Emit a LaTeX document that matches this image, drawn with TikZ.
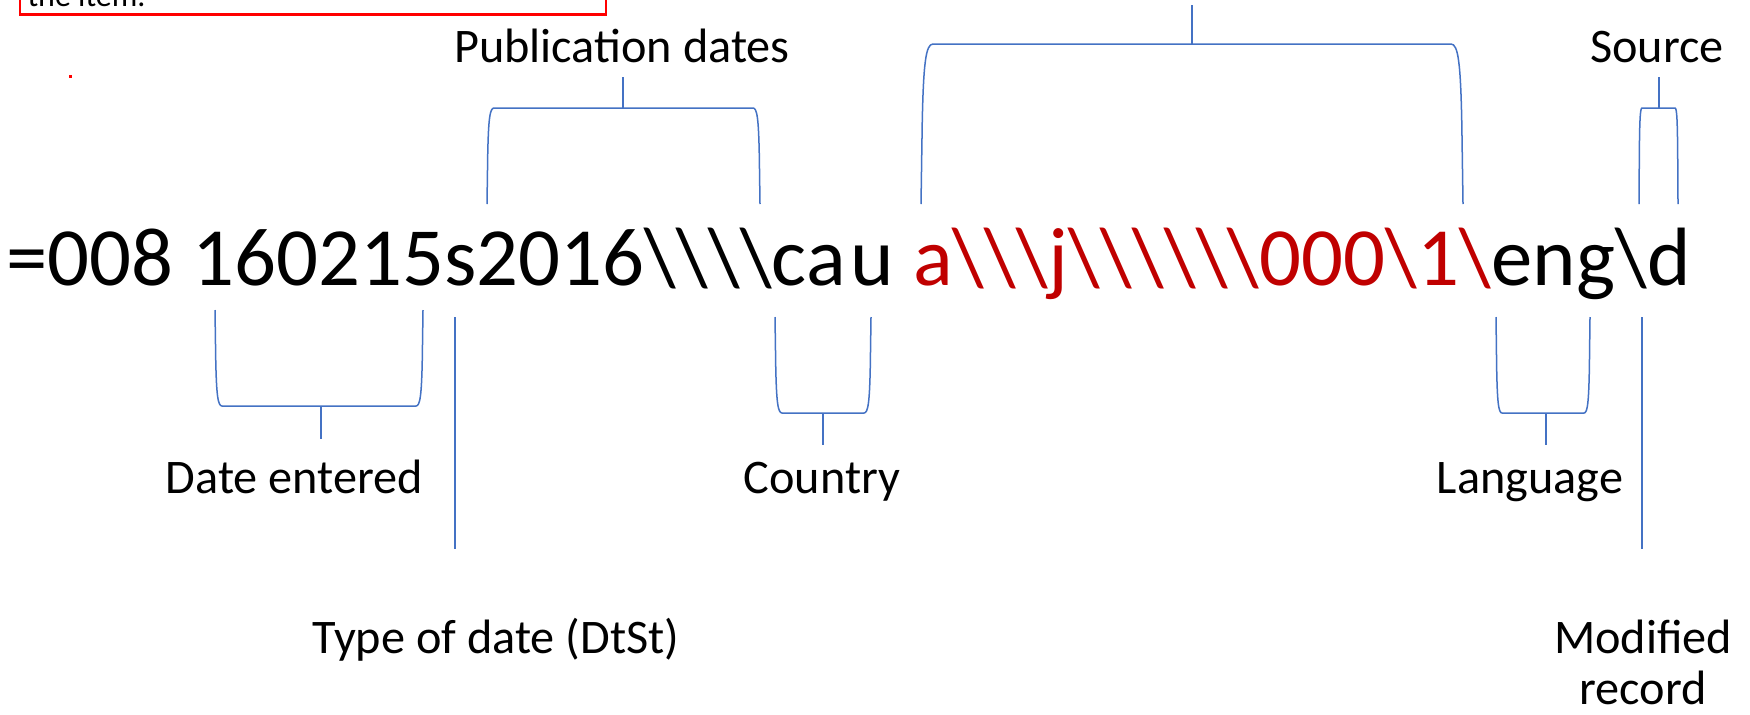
\documentclass[tikz,border=0pt]{standalone}
\usepackage{fontspec}
\setmainfont{Carlito}
\definecolor{bblue}{HTML}{4472C4}
\definecolor{codered}{HTML}{C00000}
\newcommand{\bksl}{\textbackslash}
% #1 left x, #2 right x, #3 y of the flat part, #4 y of the side ends, #5 corner inset
\newcommand{\brackline}[5]{%
  \draw[brkline] (#1,#4) -- ({#1+0.1*#5},{#3+0.5*(#4-#3)})
    .. controls ({#1+0.2*#5},{#3+0.12*(#4-#3)}) and ({#1+0.4*#5},#3) .. ({#1+#5},#3)
    -- ({#2-#5},#3)
    .. controls ({#2-0.4*#5},#3) and ({#2-0.2*#5},{#3+0.12*(#4-#3)}) .. ({#2-0.1*#5},{#3+0.5*(#4-#3)})
    -- (#2,#4);}
\begin{document}
\begin{tikzpicture}[x=0.4pt,y=-0.4pt,
  brkline/.style={draw=bblue, line width=0.6pt},
  lbl/.style={inner sep=0pt, anchor=base, font=\fontsize{19.3}{23}\selectfont},
  codetext/.style={inner sep=0pt, anchor=base west, font=\fontsize{33.1}{40}\selectfont}]
\useasboundingbox (0,0) rectangle (1750,714);
\clip (0,0) rectangle (1750,714);
\fill[white] (0,0) rectangle (1750,714);

% partial note box at the top
\draw[red, line width=0.9pt] (20,-80) rectangle (606,14.5);
\node[inner sep=0pt, anchor=base west, font=\fontsize{12.8}{15}\selectfont] (note) at (27,6) {the item.};
\fill[red] (68.5,74.5) rectangle (72,78);

% main code line
\node[codetext] (code) at (6,285) {=008 160215s2016\bksl\bksl\bksl\bksl ca\kern2pt u {\color{codered}a\bksl\bksl\bksl j\bksl\bksl\bksl\bksl\bksl\bksl 000\bksl 1\bksl}eng\bksl d};

% labels
\node[lbl] (pub) at (622,62) {Publication dates};
\node[lbl] (src) at (1657,62) {Source};
\node[lbl] (dent) at (294.5,493) {Date entered};
\node[lbl] (ctry) at (822,493) {Country};
\node[lbl] (lang) at (1530,493) {Language};
\node[lbl] (dtst) at (496,653) {Type of date (DtSt)};
\node[lbl] (mod1) at (1643,653) {Modified};
\node[lbl] (mod2) at (1643,704) {record};

% brackets
\brackline{921}{1463}{44}{204}{12}
\brackline{487}{760}{108}{204}{7}
\brackline{1639}{1678}{108}{204}{3}
\brackline{215}{423}{406}{310}{7}
\brackline{775}{871}{413}{317}{7}
\brackline{1496}{1590}{413}{317}{6}

% connector stems
\coordinate (bigA) at (1192,5);   \coordinate (bigB) at (1192,44);
\coordinate (pubA) at (623,77);   \coordinate (pubB) at (623,108);
\coordinate (srcA) at (1659,77);  \coordinate (srcB) at (1659,108);
\coordinate (denA) at (321,406);  \coordinate (denB) at (321,439);
\coordinate (ctyA) at (823,413);  \coordinate (ctyB) at (823,445);
\coordinate (lanA) at (1546,413); \coordinate (lanB) at (1546,445);
\coordinate (dtA) at (455,317);   \coordinate (dtB) at (455,549);
\coordinate (modA) at (1642,317); \coordinate (modB) at (1642,549);
\draw[brkline] (bigA) -- (bigB);
\draw[brkline] (pubA) -- (pubB);
\draw[brkline] (srcA) -- (srcB);
\draw[brkline] (denA) -- (denB);
\draw[brkline] (ctyA) -- (ctyB);
\draw[brkline] (lanA) -- (lanB);
\draw[brkline] (dtA) -- (dtB);
\draw[brkline] (modA) -- (modB);
\end{tikzpicture}
\end{document}
